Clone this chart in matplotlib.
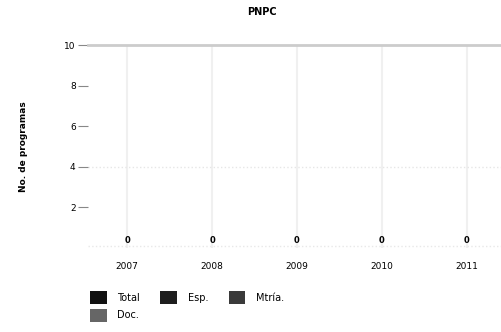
import numpy as np
import matplotlib.pyplot as plt

# datos PNPC por año
years = ['2007', '2008', '2009', '2010', '2011']
total = [0, 0, 0, 0, 0]
esp = [0, 0, 0, 0, 0]
mtria = [0, 0, 0, 0, 0]
doc = [0, 0, 0, 0, 0]

series = [total, esp, mtria, doc]
names = ['Total', 'Esp.', 'Mtría.', 'Doc.']
colors = ['#111111', '#1e1e1e', '#3a3a3a', '#666666']

fig = plt.figure(figsize=(5.01, 3.32), dpi=100)
ax = fig.add_axes([0.176, 0.253, 0.83, 0.611])

x = np.arange(len(years))
w = 0.18
bars = []
for i, (vals, nm, c) in enumerate(zip(series, names, colors)):
    bars.append(ax.bar(x + (i - 1.5) * w, vals, w, color=c, label=nm))

for xi, v in zip(x, total):
    ax.text(xi, v + 0.15, str(v), ha='center', va='bottom', fontsize=6, fontweight='bold')

ax.set_ylim(0, 10)
ax.set_xlim(-0.46, 4.44)
ax.set_yticks([2, 4, 6, 8, 10])
ax.set_yticklabels(['2', '4', '6', '8', '10'], fontsize=6.5)
ax.set_xticks(x)
ax.set_xticklabels(years, fontsize=6.5)
ax.tick_params(axis='x', length=0, pad=10)
ax.tick_params(axis='y', length=7, width=0.8, color='#888888', pad=2)

for s in ['left', 'right', 'bottom']:
    ax.spines[s].set_visible(False)
ax.spines['top'].set_color('#cccccc')
ax.spines['top'].set_linewidth(2)
for xi in x:
    ax.axvline(xi, color='#f0f0f0', lw=1.5, zorder=0)
ax.axhline(4, color='#e6e6e6', lw=1, ls=':', zorder=0)
ax.axhline(0.1, color='#e8e8e8', lw=1, ls=':', zorder=0)

ax.set_ylabel('No. de programas', fontsize=6.5, fontweight='bold', labelpad=26)
fig.text(262 / 501, 1 - 12 / 332, 'PNPC', ha='center', va='center', fontsize=7, fontweight='bold')

# orden para que queden Total, Esp., Mtría. arriba y Doc. abajo
order = [0, 3, 1, 2]
fig.legend([bars[i] for i in order], [names[i] for i in order],
           loc='upper left', bbox_to_anchor=(0.172, 0.135), ncol=3, frameon=False,
           fontsize=7, handlelength=1.7, handleheight=1.7, columnspacing=2.1,
           handletextpad=1.1, labelspacing=0.45, borderaxespad=0)

fig.savefig('out.png', dpi=100)
